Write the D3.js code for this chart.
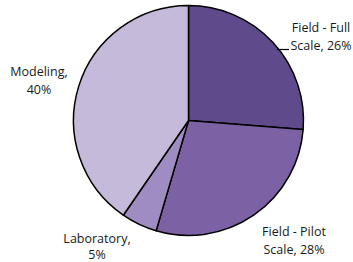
<!DOCTYPE html>
<html><head><meta charset="utf-8">
<script src="https://cdn.jsdelivr.net/npm/d3@7"></script>
<style>html,body{margin:0;padding:0;background:#fff;}svg{display:block;}</style>
</head><body>
<svg id="chart" width="353" height="262"></svg>
<script>
const categories = ["Field - Full Scale", "Field - Pilot Scale", "Laboratory", "Modeling"];
const values = [26, 28, 5, 40];
const labelLines = [["Field - Full", "Scale, 26%"], ["Field - Pilot", "Scale, 28%"], ["Laboratory,", "5%"], ["Modeling,", "40%"]];
const colors = ["#5f4b8b", "#7c62a5", "#9e8cc3", "#c5bad9"];

const svg = d3.select("#chart");
const cx = 188.5, cy = 120.5, r = 115;
const g = svg.append("g").attr("transform", `translate(${cx},${cy})`);
const pie = d3.pie().sort(null).value(d => d)(values);
const arc = d3.arc().innerRadius(0).outerRadius(r);
g.selectAll("path").data(pie).join("path")
  .attr("d", arc)
  .attr("fill", (d, i) => colors[i])
  .attr("stroke", "#000")
  .attr("stroke-width", 1.5)
  .attr("stroke-linejoin", "round");

const labelPos = [[321, 32], [294, 236], [97, 243], [39, 76]];
const lineGap = [18, 18, 16, 18];
const font = "'Open Sans', 'Liberation Sans', sans-serif";
labelLines.forEach((lines, i) => {
  const t = svg.append("text")
    .attr("x", labelPos[i][0]).attr("y", labelPos[i][1])
    .attr("text-anchor", "middle")
    .attr("font-family", font).attr("font-size", 12.5).attr("fill", "#1a1a1a");
  lines.forEach((s, k) => t.append("tspan").attr("x", labelPos[i][0]).attr("dy", k === 0 ? 0 : lineGap[i]).text(s));
});
// leader line for Field - Full Scale
svg.append("line").attr("x1", 277).attr("y1", 49.5).attr("x2", 289).attr("y2", 49.5)
  .attr("stroke", "#000").attr("stroke-width", 1.2);
</script>
</body></html>
